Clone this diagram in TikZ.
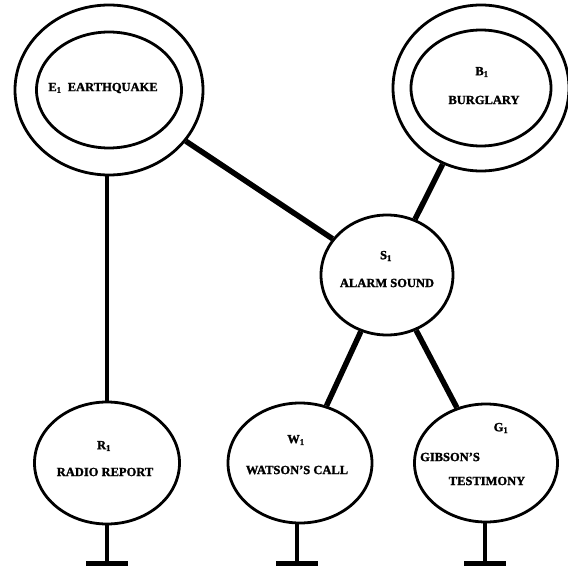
\documentclass[tikz,border=0pt]{standalone}
\usepackage{fontspec}
\setmainfont{Liberation Serif}[BoldFeatures={FakeBold=1.5}]
\usetikzlibrary{shapes.geometric}

\begin{document}
\begin{tikzpicture}[x=1pt,y=-1pt,
  oval/.style={draw, ellipse, line width=2.8pt, inner sep=0pt},
  link/.style={line width=5.5pt},
  droplink/.style={line width=4.5pt},
  stemline/.style={line width=3.2pt},
  groundbar/.style={line width=5pt},
  lbl/.style={font=\fontsize{12.5}{13}\selectfont\bfseries, inner sep=0pt}
]
\fill[white] (0,0) rectangle (568,567);
\useasboundingbox (0,0) rectangle (568,567);

% root causes: double ovals
\node[oval, minimum width=188pt, minimum height=170pt] (eq)   at (109,90) {};
\node[oval, minimum width=145pt, minimum height=116pt] (eqin) at (109,90) {};
\node[oval, minimum width=176pt, minimum height=166pt] (bu)   at (481,88) {};
\node[oval, minimum width=140pt, minimum height=116pt] (buin) at (481,88) {};

% intermediate and observed variables
\node[oval, minimum width=132pt, minimum height=120pt] (al) at (387,275) {};
\node[oval, minimum width=145pt, minimum height=122pt] (ra) at (107,463) {};
\node[oval, minimum width=144pt, minimum height=120pt] (wa) at (300,463) {};
\node[oval, minimum width=143pt, minimum height=118pt] (gi) at (486,463) {};

% labels
\node[lbl] (eqt) at (103,88) {E\textsubscript{1}\ \ EARTHQUAKE};
\node[lbl] (bus) at (482,72) {B\textsubscript{1}};
\node[lbl] (but) at (484,100) {BURGLARY};
\node[lbl] (als) at (386,256) {S\textsubscript{1}};
\node[lbl] (alt) at (387,283) {ALARM SOUND};
\node[lbl] (ras) at (104,446) {R\textsubscript{1}};
\node[lbl] (rat) at (105,472) {RADIO REPORT};
\node[lbl] (was) at (296,440) {W\textsubscript{1}};
\node[lbl] (wat) at (297,470) {WATSON'S CALL};
\node[lbl] (gis) at (501,428) {G\textsubscript{1}};
\node[lbl] (git) at (450,457) {GIBSON'S};
\node[lbl] (git2) at (487,481) {TESTIMONY};

% causal links
\draw[link] (eq) -- (al);
\draw[link] (bu) -- (al);
\draw[link] (al) -- (wa);
\draw[link] (al) -- (gi);
\draw[droplink] (eq.south -| ra.north) -- (ra.north);

% terminal grounds under the observed nodes
\foreach \n/\x in {ra/107, wa/297, gi/485}{
  \coordinate (\n g) at (\x,563);
  \draw[stemline] (\n.south -| \n g) -- (\n g);
  \draw[groundbar] ([xshift=-21pt]\n g) -- ([xshift=21pt]\n g);
}
\end{tikzpicture}
\end{document}
